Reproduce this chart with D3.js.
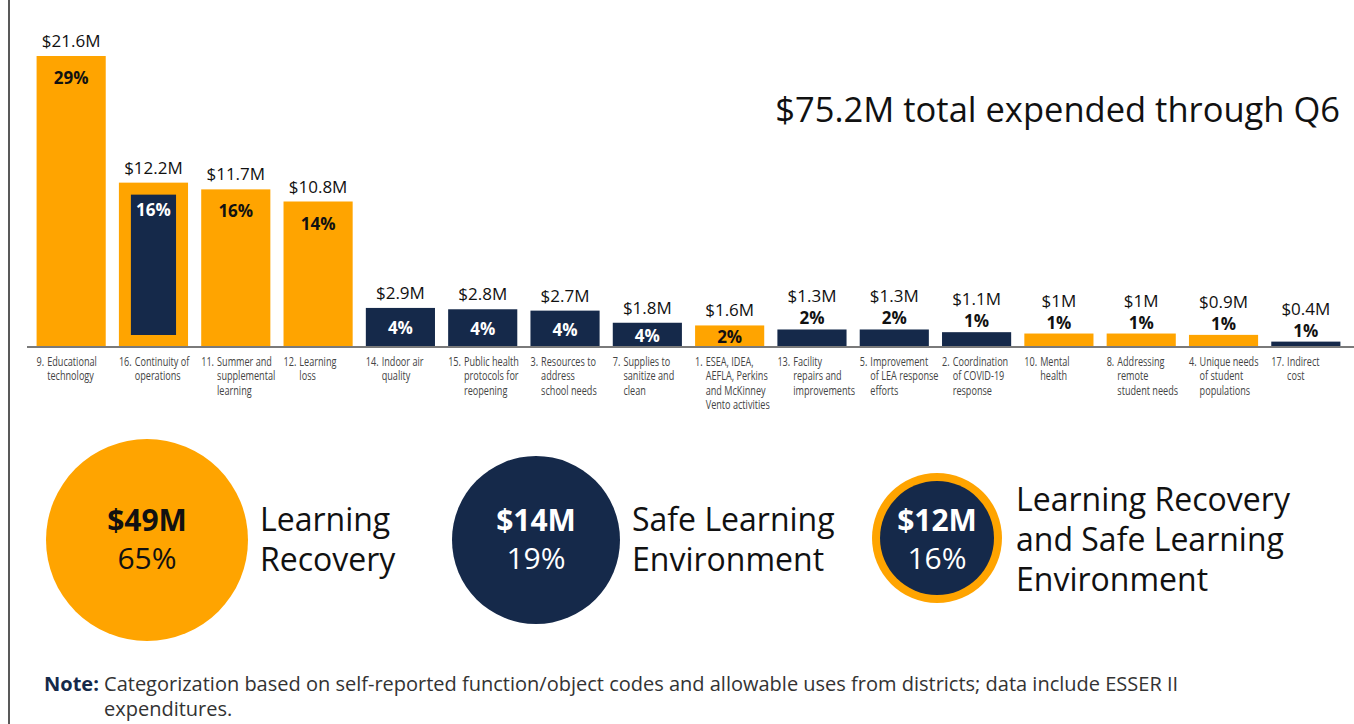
<!DOCTYPE html>
<html>
<head>
<meta charset="utf-8">
<script src="https://cdn.jsdelivr.net/npm/d3@7"></script>
<style>
  body { margin: 0; background: #fff; }
  text { font-family: "Open Sans", "Noto Sans", sans-serif; }
</style>
</head>
<body>
<script>
// bar chart data
var categories = [
  ["9.", "Educational", "technology"],
  ["16.", "Continuity of", "operations"],
  ["11.", "Summer and", "supplemental", "learning"],
  ["12.", "Learning", "loss"],
  ["14.", "Indoor air", "quality"],
  ["15.", "Public health", "protocols for", "reopening"],
  ["3.", "Resources to", "address", "school needs"],
  ["7.", "Supplies to", "sanitize and", "clean"],
  ["1.", "ESEA, IDEA,", "AEFLA, Perkins", "and McKinney", "Vento activities"],
  ["13.", "Facility", "repairs and", "improvements"],
  ["5.", "Improvement", "of LEA response", "efforts"],
  ["2.", "Coordination", "of COVID-19", "response"],
  ["10.", "Mental", "health"],
  ["8.", "Addressing", "remote", "student needs"],
  ["4.", "Unique needs", "of student", "populations"],
  ["17.", "Indirect", "cost"]
]
var values = [21.6, 12.2, 11.7, 10.8, 2.9, 2.8, 2.7, 1.8, 1.6, 1.3, 1.3, 1.1, 1, 1, 0.9, 0.4]
var percents = [29, 16, 16, 14, 4, 4, 4, 4, 2, 2, 2, 1, 1, 1, 1, 1]
var groups = ["LR", "Both", "LR", "LR", "SLE", "SLE", "SLE", "SLE", "LR", "SLE", "SLE", "SLE", "LR", "LR", "LR", "SLE"]

// summary data
var summaryAmounts = ["$49M", "$14M", "$12M"]
var summaryPercents = [65, 19, 16]
var summaryGroups = ["LR", "SLE", "Both"]
var summaryNames = [
  ["Learning", "Recovery"],
  ["Safe Learning", "Environment"],
  ["Learning Recovery", "and Safe Learning", "Environment"]
]

var totalLabel = "$75.2M total expended through Q6"

var orange = "#ffa400"
var navy = "#15294a"

var width = 1354
var height = 724
var baseY = 347

var data = values.map(function(v, i) {
  return { lines: categories[i], value: v, pct: percents[i], group: groups[i] }
})

var svg = d3.select("body")
            .append("svg")
            .attr("width", width)
            .attr("height", height)

var xScale = d3.scaleBand()
               .domain(d3.range(data.length))
               .range([30, 1347])
               .paddingInner(0.16)
               .paddingOuter(0.08)

var yScale = d3.scaleLinear()
               .domain([0, 21.6])
               .range([baseY, 56])

// left rule
svg.append("line")
   .attr("x1", 9).attr("x2", 9)
   .attr("y1", 0).attr("y2", height)
   .attr("stroke", "#222")
   .attr("stroke-width", 1.5)

// bars
var bars = svg.selectAll(".bar")
   .data(data)
   .enter()
   .append("g")
   .attr("class", "bar")

bars.append("rect")
   .attr("x", function(d, i) { return xScale(i) })
   .attr("y", function(d) { return yScale(d.value) })
   .attr("width", xScale.bandwidth())
   .attr("height", function(d) { return baseY - yScale(d.value) })
   .attr("fill", function(d) { return d.group == "SLE" ? navy : orange })

// inner navy box for the "both" bar
bars.filter(function(d) { return d.group == "Both" })
   .append("rect")
   .attr("x", function(d) { return xScale(data.indexOf(d)) + 12 })
   .attr("y", function(d) { return yScale(d.value) + 12 })
   .attr("width", xScale.bandwidth() - 24)
   .attr("height", function(d) { return baseY - yScale(d.value) - 24 })
   .attr("fill", navy)

//axis line
var xAxis = d3.axisBottom(xScale).tickSize(0).tickFormat("")
svg.append("g")
   .attr("transform", "translate(0," + baseY + ")")
   .call(xAxis)
   .call(function(g) {
     g.select(".domain").attr("d", "M27,0H1354").attr("stroke", "#7a7a7a").attr("stroke-width", 2)
   })

// value labels
bars.append("text")
   .attr("x", function(d, i) { return xScale(i) + xScale.bandwidth() / 2 })
   .attr("y", function(d) {
     var top = yScale(d.value)
     return d.value >= 1.5 ? top - 9 : top - 27
   })
   .attr("text-anchor", "middle")
   .attr("font-size", 17)
   .attr("fill", "#111")
   .text(function(d) { return "$" + d.value + "M" })

// percent labels
bars.append("text")
   .attr("x", function(d, i) { return xScale(i) + xScale.bandwidth() / 2 })
   .attr("y", function(d) {
     var top = yScale(d.value)
     var h = baseY - top
     if (d.value >= 1.5) return top + Math.min(22, h / 2 + 1) + 6 + (d.group == "Both" ? 5 : 0)
     return top - 5
   })
   .attr("text-anchor", "middle")
   .attr("font-size", 17)
   .attr("font-weight", "bold")
   .attr("fill", function(d) {
     if (d.value < 1.5) return "#111"
     return d.group == "LR" ? "#111" : "#fff"
   })
   .text(function(d) { return d.pct + "%" })

// category labels, hanging indent after the number (squeezed to look condensed)
var squeeze = 0.76
bars.each(function(d, i) {
  var g = d3.select(this).append("g")
     .attr("transform", "translate(" + xScale(i) + ",366) scale(" + squeeze + ",1)")
  var num = g.append("text")
     .attr("x", 0)
     .attr("y", 0)
     .attr("font-size", 12)
     .attr("fill", "#444")
     .text(d.lines[0])
  var indent = num.node().getComputedTextLength() + 4
  d.lines.slice(1).forEach(function(line, j) {
    g.append("text")
     .attr("x", indent)
     .attr("y", j * 14.5)
     .attr("font-size", 12)
     .attr("fill", "#444")
     .text(line)
  })
})

// total
svg.append("text")
   .attr("x", 1340)
   .attr("y", 122)
   .attr("text-anchor", "end")
   .attr("font-size", 34.5)
   .attr("fill", "#111")
   .text(totalLabel)

// summary circles
var circleX = [147, 536, 937]
var circleR = [101, 84, 65]
var nameX = [260, 632, 1016]
var nameY = [531, 531, 511]

summaryAmounts.forEach(function(amt, i) {
  var g = svg.append("g")
  if (summaryGroups[i] == "Both") {
    g.append("circle").attr("cx", circleX[i]).attr("cy", 538).attr("r", circleR[i]).attr("fill", orange)
    g.append("circle").attr("cx", circleX[i]).attr("cy", 538).attr("r", circleR[i] - 8).attr("fill", navy)
  } else {
    g.append("circle").attr("cx", circleX[i]).attr("cy", 540).attr("r", circleR[i])
     .attr("fill", summaryGroups[i] == "LR" ? orange : navy)
  }
  var tc = summaryGroups[i] == "LR" ? "#111" : "#fff"
  g.append("text")
   .attr("x", circleX[i]).attr("y", 531)
   .attr("text-anchor", "middle")
   .attr("font-size", 30).attr("font-weight", "bold")
   .attr("fill", tc)
   .text(amt)
  g.append("text")
   .attr("x", circleX[i]).attr("y", 569)
   .attr("text-anchor", "middle")
   .attr("font-size", 30)
   .attr("fill", tc)
   .text(summaryPercents[i] + "%")
  summaryNames[i].forEach(function(line, j) {
    g.append("text")
     .attr("x", nameX[i]).attr("y", nameY[i] + j * 40)
     .attr("font-size", 32)
     .attr("fill", "#111")
     .text(line)
  })
})

// note
var note = svg.append("text")
   .attr("x", 44).attr("y", 691)
   .attr("font-size", 20)
   .attr("fill", "#333")
note.append("tspan").attr("font-weight", "bold").attr("fill", navy).text("Note:")
note.append("tspan").text(" Categorization based on self-reported function/object codes and allowable uses from districts; data include ESSER II")
svg.append("text")
   .attr("x", 104).attr("y", 716)
   .attr("font-size", 20)
   .attr("fill", "#333")
   .text("expenditures.")
</script>
</body>
</html>
